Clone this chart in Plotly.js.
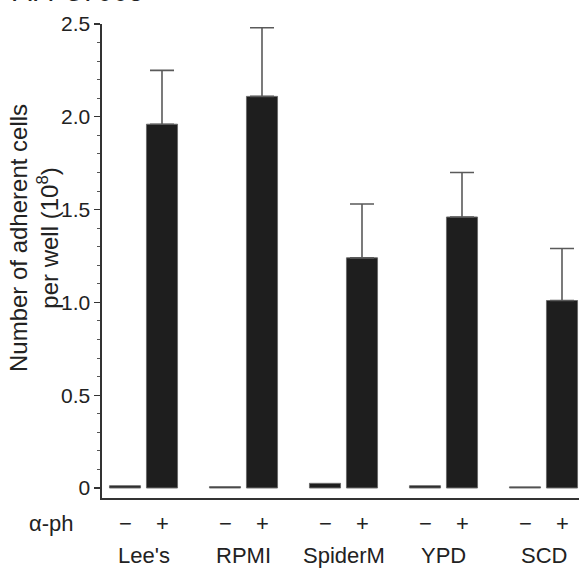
<!DOCTYPE html>
<html>
<head>
<meta charset="utf-8">
<script src="https://cdn.plot.ly/plotly-3.0.1.min.js"></script>
<style>
html,body{margin:0;padding:0;background:#fff;}
#chart{width:579px;height:571px;}
</style>
</head>
<body>
<div id="chart"></div>
<script>
// ---- data ----
const media = ["Lee's", "RPMI", "SpiderM", "YPD", "SCD"];
const minusValues = [0.012, 0.007, 0.025, 0.012, 0.006];
const plusValues = [1.96, 2.11, 1.24, 1.46, 1.01];
const plusErrorTop = [2.25, 2.48, 1.53, 1.70, 1.29];
const treatmentLabels = ["\u2212", "+"];
const treatmentName = "\u03b1-ph";
const yTickVals = [0, 0.5, 1.0, 1.5, 2.0, 2.5];
const yTickText = ["0", "0.5", "1.0", "1.5", "2.0", "2.5"];
const yTitleLines = ["Number of adherent cells", "per well (10<sup>8</sup>)"];
const panelLabel = "A: P37005";

// ---- layout parameters ----
const FONT = "Liberation Sans, Arial, Helvetica, sans-serif";
const TXT = "#222";
const bargap = 0.26, bargroupgap = 0.16;
const slot = (1 - bargap) / 2;

const plusErr = plusErrorTop.map((t, i) => t - plusValues[i]);

const traces = [
  {
    type: 'bar', x: media, y: minusValues, name: treatmentLabels[0],
    marker: {color: '#1e1e1e', line: {color: '#6a6a6a', width: 1}},
    hoverinfo: 'y'
  },
  {
    type: 'bar', x: media, y: plusValues, name: treatmentLabels[1],
    marker: {color: '#1e1e1e', line: {color: '#6a6a6a', width: 1}},
    error_y: {type: 'data', symmetric: false, array: plusErr,
              arrayminus: plusErr.map(() => 0),
              color: '#5a5a5a', thickness: 1.6, width: 12},
    hoverinfo: 'y'
  }
];

const annotations = [];
media.forEach((m, i) => {
  treatmentLabels.forEach((s, k) => {
    annotations.push({
      xref: 'x', yref: 'paper', x: i + (k === 0 ? -slot / 2 : slot / 2), y: -0.053,
      text: s, showarrow: false, xanchor: 'center', yanchor: 'middle',
      font: {family: FONT, size: 22, color: TXT}
    });
  });
  annotations.push({
    xref: 'x', yref: 'paper', x: i, y: -0.122,
    text: m, showarrow: false, xanchor: 'center', yanchor: 'middle',
    font: {family: FONT, size: 22, color: TXT}
  });
});
annotations.push({
  xref: 'paper', yref: 'paper', x: -0.105, y: -0.053,
  text: treatmentName, showarrow: false, xanchor: 'center', yanchor: 'middle',
  font: {family: FONT, size: 22, color: TXT}
});
annotations.push({
  xref: 'paper', yref: 'paper', x: -0.143, y: 0.548,
  text: yTitleLines.join('<br>'), showarrow: false, textangle: -90,
  xanchor: 'center', yanchor: 'middle',
  font: {family: FONT, size: 24, color: TXT}
});
annotations.push({
  xref: 'paper', yref: 'paper', x: -0.19, y: 1.032,
  text: panelLabel, showarrow: false, xanchor: 'left', yanchor: 'bottom',
  font: {family: FONT, size: 28, color: TXT}
});

const layout = {
  width: 579, height: 571,
  margin: {l: 102, r: 0, t: 24, b: 73, pad: 0},
  paper_bgcolor: '#fff', plot_bgcolor: '#fff',
  showlegend: false,
  barmode: 'group', bargap: bargap, bargroupgap: bargroupgap,
  font: {family: FONT, color: TXT},
  xaxis: {
    type: 'category', range: [-0.415, 4.355], showticklabels: false,
    ticks: '', showgrid: false, zeroline: false,
    showline: true, linecolor: '#333', linewidth: 1.8, fixedrange: true
  },
  yaxis: {
    range: [-0.054, 2.5], tickvals: yTickVals, ticktext: yTickText,
    ticks: 'outside', ticklen: 6, tickwidth: 1.2, tickcolor: '#333',
    minor: {dtick: 0.1, tick0: 0, ticks: 'outside', ticklen: 3, tickwidth: 1, tickcolor: '#555', showgrid: false},
    tickfont: {family: FONT, size: 21, color: TXT},
    showgrid: false, zeroline: false,
    showline: true, linecolor: '#333', linewidth: 1.6, fixedrange: true
  },
  annotations: annotations
};

Plotly.newPlot('chart', traces, layout, {displayModeBar: false, staticPlot: true});
</script>
</body>
</html>
